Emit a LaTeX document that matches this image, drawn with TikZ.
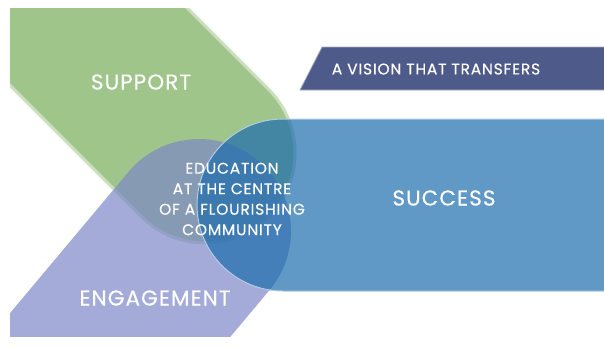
\documentclass[tikz,border=0pt]{standalone}
\usepackage{fontspec}
\setmainfont{Poppins}
\newfontfamily\labelfont[FakeBold=0.35,LetterSpace=5]{Poppins}
\definecolor{supportgreen}{HTML}{A0C58A}
\definecolor{engagepurple}{HTML}{7D88C7}
\definecolor{successblue}{HTML}{1C6CAE}
\definecolor{visionnavy}{HTML}{4D5A8A}
% stadium band, round end at the origin, pointing along +x
\newcommand{\bandpath}[1]{(-700,-#1) -- (0,-#1) arc[start angle=-90,end angle=90,radius=#1] -- (-700,#1) -- cycle}

\tikzset{
  bandlabel/.style={text=white, font=\labelfont\fontsize{21.5}{24}\selectfont},
  centrelabel/.style={text=white, align=center, font=\labelfont\fontsize{15.5}{20.5}\selectfont},
}

\begin{document}
\begin{tikzpicture}[x=1pt,y=-1pt]
  \useasboundingbox (0,0) rectangle (604,346);
  \begin{scope}
    \clip (10,8) rectangle (604,336);
    % support
    \begin{scope}[shift={(205,153)},rotate=-45]
      \filldraw[fill=supportgreen, draw=supportgreen!55!white, line width=3] \bandpath{90};
    \end{scope}
    % engagement
    \begin{scope}[shift={(199,231)},rotate=50]
      \fill[engagepurple, opacity=0.7] \bandpath{92};
    \end{scope}
    % success
    \begin{scope}[shift={(283,205)},rotate=180]
      \filldraw[fill=successblue, fill opacity=0.7, draw=successblue!35!white, line width=1] \bandpath{86};
    \end{scope}
  \end{scope}
  % vision banner
  \filldraw[fill=visionnavy, draw=visionnavy!50!white, line width=0.8] (322,47) -- (605,47) -- (605,90) -- (300,90) -- cycle;

  \node[bandlabel] (support) at (141,82) {SUPPORT};
  \node[bandlabel] (success) at (444,198) {SUCCESS};
  \node[bandlabel] (engagement) at (155,298) {ENGAGEMENT};
  \node[centrelabel] (centre) at (232,199) {EDUCATION\\AT THE CENTRE\\OF A FLOURISHING\\COMMUNITY};
  \node[text=white, font=\labelfont\fontsize{15.5}{18}\selectfont] (vision) at (436,69) {A VISION THAT TRANSFERS};
\end{tikzpicture}
\end{document}
